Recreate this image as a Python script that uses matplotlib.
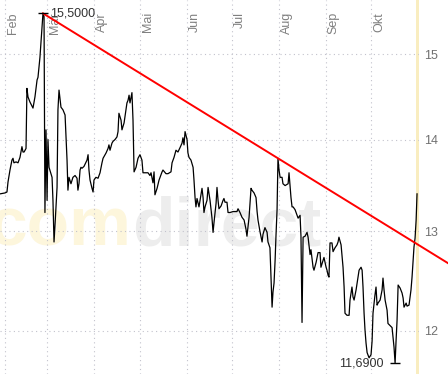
import numpy as np
import matplotlib
matplotlib.use('Agg')
import matplotlib.pyplot as plt
from matplotlib.ticker import NullLocator

plt.rcParams['font.family'] = ['Liberation Sans', 'DejaVu Sans']

# days counted from 1 Feb, price in EUR
days = [
    -3.3, 0.0, 1.3, 2.0, 3.3, 4.6, 5.3, 5.9, 7.3, 8.6, 9.9, 11.2, 11.9, 12.6, 13.9,
    14.5, 15.2, 16.5, 18.5, 19.8, 21.2, 21.8, 23.1, 24.5, 25.1, 25.8, 26.4, 27.1,
    27.8, 28.4, 29.1, 31.1, 31.7, 32.4, 33.0, 34.4, 35.0, 35.7, 37.0, 38.3, 39.7,
    41.0, 41.6, 42.3, 43.6, 44.9, 46.3,
    47.6, 48.2, 48.9, 49.6, 50.2, 50.9, 52.2, 54.2, 54.9, 55.5, 56.2, 57.5, 58.2,
    58.8, 60.1, 61.5, 62.8, 64.1, 64.8, 66.8, 68.1, 68.7, 69.4, 70.7, 71.4, 72.7,
    74.0, 74.7, 75.3, 76.7, 77.3, 78.7, 79.3, 80.6, 81.3, 82.0, 82.6, 83.9, 84.6,
    85.3, 86.6, 87.9, 89.2, 90.5, 91.2, 92.5, 94.5, 95.8,
    96.5, 97.8, 98.5, 99.1, 100.5, 101.8, 103.8, 104.4, 106.4, 107.7, 109.7, 110.4,
    111.7, 113.0, 114.3, 115.7, 117.0, 117.6, 118.3, 119.0, 120.3, 120.9, 121.6,
    122.9, 124.3, 124.9, 125.6, 126.2, 126.9, 128.2, 128.9, 130.2, 130.9, 131.5,
    132.2, 133.5, 134.2, 135.5, 136.2, 136.8, 137.5, 138.1, 139.5, 140.1, 140.8,
    141.4, 142.8, 144.1, 144.7, 145.4,
    146.7, 147.4, 148.7, 150.7, 153.3, 154.0, 155.3, 156.6, 158.0, 159.3, 159.9,
    160.6, 161.3, 162.6, 163.2, 164.6, 165.9, 166.6, 167.2, 168.5, 169.9, 170.5,
    171.8, 173.2, 173.8, 175.1, 175.8, 176.5, 177.1, 177.8, 178.5, 179.1, 179.8,
    180.4, 181.1, 181.8, 183.1, 183.7, 185.1, 187.1, 187.7, 189.0, 189.7, 190.4,
    191.7, 193.0, 193.7, 195.0,
    195.6, 196.3, 197.0, 198.3, 199.6, 200.3, 201.6, 202.2, 203.6, 204.2, 205.6,
    206.9, 208.2, 208.8, 210.2, 210.8, 212.2, 212.8, 213.5, 214.1, 214.8, 216.1,
    216.8, 218.1, 219.4, 220.1, 220.7, 222.1, 223.4, 224.1, 224.7, 226.0, 227.4,
    228.0, 229.3, 230.0, 230.7, 232.0, 232.7, 234.0, 235.3, 236.0, 236.6, 237.3,
    237.9, 238.6, 239.3, 240.6, 241.9,
    242.6, 243.2, 244.5, 245.2, 245.9, 246.5, 247.9, 249.2, 249.8, 250.5, 251.2,
    252.5, 253.1, 254.5, 255.8, 256.4, 257.1, 257.8, 258.4, 259.1, 259.8, 261.1,
    262.4, 263.1, 263.7, 265.1, 265.7, 267.0, 268.3, 269.0, 269.7, 270.3, 271.0,
    271.7, 272.3,
]
prices = [
    13.40, 13.41, 13.42, 13.53, 13.66, 13.77, 13.79, 13.74, 13.75, 13.74, 13.80, 13.92, 13.86, 13.86, 13.90,
    14.59, 14.49, 14.43, 14.36, 14.49, 14.69, 14.72, 14.96, 15.33, 15.50, 15.46, 13.20, 14.11,
    13.33, 14.00, 13.69, 13.58, 13.33, 12.89, 13.05, 13.47, 14.34, 14.57, 14.37, 14.34, 14.28,
    13.77, 13.44, 13.58, 13.51, 13.58, 13.60,
    13.57, 13.44, 13.51, 13.66, 13.69, 13.68, 13.70, 13.77, 13.83, 13.66, 13.55, 13.46, 13.42,
    13.55, 13.58, 13.57, 13.63, 13.74, 13.79, 13.85, 13.90, 13.94, 13.88, 13.96, 13.98, 14.00,
    14.03, 14.09, 14.30, 14.22, 14.11, 14.19, 14.26, 14.42, 14.45, 14.51, 14.42, 14.54, 14.22,
    13.64, 13.69, 13.79, 13.83, 13.77, 13.63, 13.63, 13.63, 13.60,
    13.63, 13.52, 13.64, 13.39, 13.46, 13.55, 13.64, 13.66, 13.62, 13.62, 13.64, 13.74,
    13.80, 13.88, 13.86, 13.91, 13.96, 14.02, 13.94, 14.09, 14.00, 13.85, 13.80,
    13.77, 13.69, 13.55, 13.36, 13.26, 13.35, 13.26, 13.33, 13.46, 13.36, 13.20,
    13.26, 13.33, 13.47, 13.33, 13.23, 13.14, 12.99, 13.09, 13.30, 13.47, 13.33,
    13.24, 13.27, 13.33, 13.35, 13.31,
    13.31, 13.20, 13.20, 13.21, 13.21, 13.24, 13.20, 13.15, 13.12, 13.02, 12.95,
    13.05, 13.15, 13.46, 13.44, 13.41, 13.36, 13.21, 13.12, 13.00, 12.89, 12.97,
    13.04, 12.99, 12.89, 12.83, 12.53, 12.23, 12.38, 12.47, 12.70, 12.96, 13.23,
    13.79, 13.66, 13.58, 13.58, 13.51, 13.49, 13.51, 13.63, 13.36, 13.26, 13.26,
    13.23, 13.17, 13.14, 13.17,
    12.95, 12.08, 12.94, 12.95, 12.99, 12.94, 12.76, 12.81, 12.63, 12.60, 12.68,
    12.78, 12.78, 12.63, 12.70, 12.73, 12.63, 12.60, 12.55, 12.53, 12.88, 12.88,
    12.79, 12.83, 12.86, 12.89, 12.94, 12.86, 12.63, 12.43, 12.17, 12.15, 12.15,
    12.30, 12.43, 12.33, 12.30, 12.40, 12.47, 12.60, 12.63, 12.60, 12.43, 12.17,
    12.01, 11.88, 11.79, 11.74, 11.77,
    11.90, 12.17, 12.35, 12.43, 12.25, 12.27, 12.30, 12.40, 12.52, 12.40, 12.30,
    12.20, 12.07, 12.05, 12.03, 11.94, 11.84, 11.69, 11.89, 12.10, 12.45, 12.42,
    12.37, 12.32, 12.23, 12.27, 12.24, 12.25, 12.40, 12.53, 12.70, 12.84, 12.93,
    13.12, 13.40,
]

month_days = [0, 28, 59, 89, 120, 150, 181, 212, 242]
month_names = ['Feb', 'Mär', 'Apr', 'Mai', 'Jun', 'Jul', 'Aug', 'Sep', 'Okt']
y_ticks = [12, 13, 14, 15]

# resistance line through the high and the August peak
trend_days = [25.1, 180.4]
trend_vals = [15.50, 13.79]

days = np.array(days)
prices = np.array(prices)

fig = plt.figure(figsize=(4.48, 3.74), dpi=100)
ax = fig.add_axes([0, 0, 419 / 448, 1])
ax.set_yscale('log')
ax.set_xlim(-3.3, 273.6)
ax.set_ylim(11.588, 15.668)
for s in ax.spines.values():
    s.set_visible(False)

# watermark (faint)
ax.text(-12 / 419, 128 / 374, 'com', transform=ax.transAxes, fontsize=50,
        fontweight='bold', color='#fdf6dc', va='baseline', ha='left', zorder=0)
ax.text(132 / 419, 128 / 374, 'direct', transform=ax.transAxes, fontsize=50,
        fontweight='bold', color='#ededed', va='baseline', ha='left', zorder=0)

# grid
ax.set_xticks([])
ax.yaxis.tick_right()
ax.set_yticks(y_ticks)
ax.set_yticklabels([str(t) for t in y_ticks])
ax.yaxis.set_minor_locator(NullLocator())
ax.tick_params(axis='y', length=0, pad=4, labelsize=9, labelcolor='#707070')
ax.grid(axis='y', color='#c2c2cc', linestyle=(0, (1, 3)), linewidth=0.8)
for d, name in zip(month_days, month_names):
    ax.axvline(d, color='#c2c2cc', linestyle=(0, (1, 3)), linewidth=0.8, zorder=1)
    ax.text(d + 1.3, 1 - 12 / 374, name, transform=ax.get_xaxis_transform(),
            rotation=90, ha='left', va='top', fontsize=9, color='#808080')

# today marker
ax.axvspan(271.3, 273.6, color='#f9edc0', lw=0, zorder=0.5)

ax.plot(days, prices, color='black', lw=0.9, zorder=3)

# trend line, extended to the right border of the picture
k = (np.log(trend_vals[1]) - np.log(trend_vals[0])) / (trend_days[1] - trend_days[0])
t_end = 292.8
tx = [trend_days[0], t_end]
ty = [trend_vals[0], np.exp(np.log(trend_vals[0]) + k * (t_end - trend_days[0]))]
ax.plot(tx, ty, color='red', lw=1.4, clip_on=False, zorder=4)

# high / low marks
imax = int(np.argmax(prices))
imin = int(np.argmin(prices))
for i, dx, ha in [(imax, 5, 'left'), (imin, -8, 'right')]:
    ax.plot(days[i], prices[i], marker='_', ms=7, mew=1, color='black', zorder=5)
    ax.annotate(f'{prices[i]:.4f}'.replace('.', ','), (days[i], prices[i]),
                xytext=(dx, 0), textcoords='offset points', ha=ha, va='center',
                fontsize=9, color='#333333', zorder=5)

fig.savefig('out.png', dpi=100)
